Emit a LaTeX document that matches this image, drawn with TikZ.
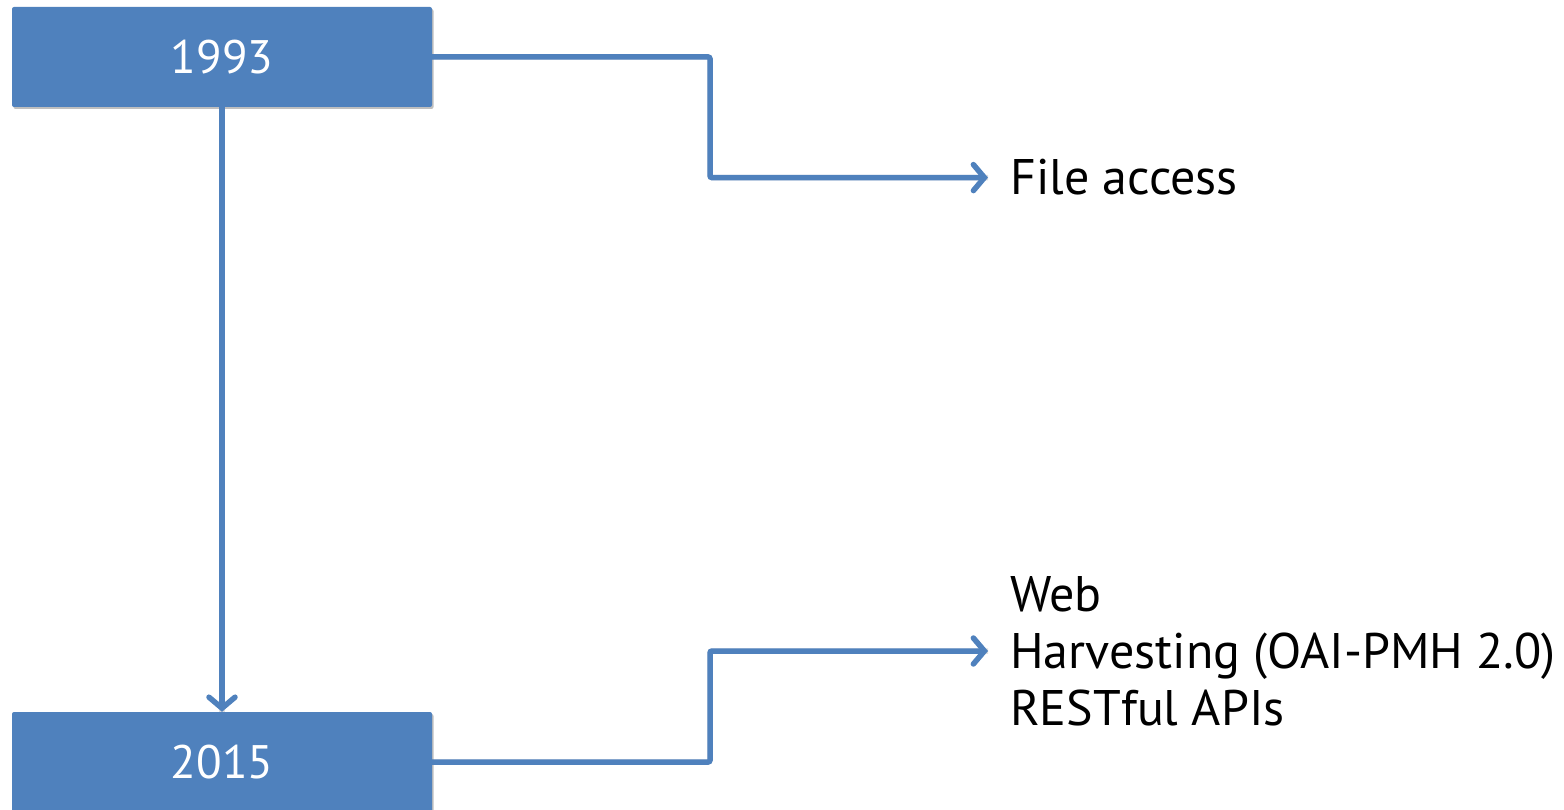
\documentclass[tikz,border=0pt]{standalone}
\usepackage{fontspec}
\setmainfont{PT Sans}
\usetikzlibrary{arrows.meta,shadows}
\definecolor{offblue}{HTML}{4F81BD}
\tikzset{
  yearbox/.style={fill=offblue, draw=none, rounded corners=2pt, minimum width=420pt, minimum height=100pt,
    text=white, font=\fontsize{47}{56}\selectfont, inner sep=0pt,
    drop shadow={shadow xshift=1.5pt, shadow yshift=-2pt, opacity=0.25, fill=black}},
  conn/.style={draw=offblue, line width=5.5pt, rounded corners=2pt, -{Straight Barb[length=11pt,width=26pt,line cap=round]}},
  connshadow/.style={draw=black, opacity=0.12, line width=5.5pt, shift={(1.5pt,2.5pt)}, rounded corners=2pt},
  label/.style={font=\fontsize{50}{57}\selectfont, text=black, inner xsep=22pt, inner ysep=0pt, align=left}
}
\begin{document}
\begin{tikzpicture}[x=1pt,y=-1pt]
\useasboundingbox (0,0) rectangle (1564,810);
\node[yearbox] (y93) at (222,57) {1993};
\node[yearbox] (y15) at (222,762) {2015};
\coordinate (k) at (710,0);
\node[label, anchor=base west] (fa) at (988,195) {File access};
\node[label, anchor=west] (web) at (988,651) {Web\\Harvesting (OAI-PMH 2.0)\\RESTful APIs};
% connectors
\draw[connshadow] (y93.east) -- (y93.east -| k) |- (fa.west);
\draw[connshadow] (y15.east) -- (y15.east -| k) |- (web.west);
\draw[connshadow] (y93.south) -- (y15.north);
\draw[conn] (y93.east) -- (y93.east -| k) |- (fa.west);
\draw[conn] (y15.east) -- (y15.east -| k) |- (web.west);
\draw[conn] (y93.south) -- (y15.north);
\end{tikzpicture}
\end{document}
